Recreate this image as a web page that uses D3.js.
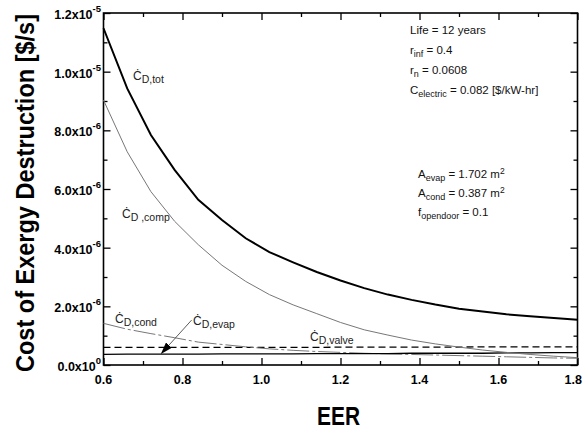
<!DOCTYPE html>
<html>
<head>
<meta charset="utf-8">
<script src="https://cdn.jsdelivr.net/npm/d3@7"></script>
<style>
  body { margin: 0; background: #fff; }
  text { font-family: "Liberation Sans", Arial, sans-serif; }
</style>
</head>
<body>
<div id="chart"></div>
<script>
// EER values (x) and cost of exergy destruction, in units of 1e-6 $/s
const eer = [0.6, 0.66, 0.72, 0.78, 0.84, 0.9, 0.96, 1.02, 1.08, 1.14, 1.2,
  1.26, 1.32, 1.38, 1.44, 1.5, 1.56, 1.62, 1.68, 1.74, 1.8]
const costTot = [11.48, 9.43, 7.84, 6.65, 5.63, 4.94, 4.32, 3.85, 3.5, 3.17, 2.88,
  2.62, 2.4, 2.22, 2.06, 1.92, 1.82, 1.73, 1.66, 1.6, 1.54]
const costComp = [9.03, 7.27, 5.91, 4.9, 4.1, 3.4, 2.85, 2.4, 2.05, 1.75, 1.45,
  1.2, 1.02, 0.85, 0.72, 0.61, 0.51, 0.43, 0.36, 0.3, 0.25]
const costCond = [1.42, 1.22, 1.07, 0.93, 0.78, 0.7, 0.62, 0.55, 0.5, 0.46, 0.43,
  0.4, 0.38, 0.36, 0.34, 0.32, 0.3, 0.28, 0.26, 0.24, 0.23]
const costValve = [0.6, 0.6, 0.6, 0.6, 0.6, 0.6, 0.6, 0.6, 0.6, 0.6, 0.61,
  0.61, 0.61, 0.61, 0.61, 0.61, 0.62, 0.62, 0.62, 0.62, 0.62]
const costEvap = [0.36, 0.37, 0.37, 0.37, 0.37, 0.38, 0.38, 0.38, 0.38, 0.39, 0.39,
  0.39, 0.39, 0.4, 0.4, 0.4, 0.4, 0.41, 0.41, 0.42, 0.42]

const xTicks = [0.6, 0.8, 1.0, 1.2, 1.4, 1.6, 1.8]
const xTickLabels = ["0.6", "0.8", "1.0", "1.2", "1.4", "1.6", "1.8"]
const yTicks = [0, 2, 4, 6, 8, 10, 12]
const yTickMant = ["0.0", "2.0", "4.0", "6.0", "8.0", "1.0", "1.2"]
const yTickExp = ["0", "-6", "-6", "-6", "-6", "-5", "-5"]

const notesTop = [
  ["Life = 12 years", "", ""],
  ["r", "inf", " = 0.4"],
  ["r", "n", " = 0.0608"],
  ["C", "electric", " = 0.082 [$/kW-hr]"]
]
const notesMid = [
  ["A", "evap", " = 1.702 m", "2"],
  ["A", "cond", " = 0.387 m", "2"],
  ["f", "opendoor", " = 0.1", ""]
]

const width = 583
const height = 432
const margin = {left: 103.5, right: 5.5, top: 13, bottom: 67}

const x = d3.scaleLinear().domain([0.6, 1.8]).range([margin.left, width - margin.right])
const y = d3.scaleLinear().domain([0, 12]).range([height - margin.bottom, margin.top])

const svg = d3.select("#chart").append("svg")
  .attr("width", width)
  .attr("height", height)

// ticks on all four sides, pointing inward
function tickAxis(axis, transform) {
  const g = svg.append("g").attr("transform", transform).call(axis)
  g.select(".domain").remove()
  g.selectAll("line").attr("stroke", "#000").attr("stroke-width", 1.3)
  g.selectAll("text").remove()
  return g
}
const xMinor = d3.range(0.7, 1.8, 0.2)
const yMinor = d3.range(1, 12, 2)
const x0 = y(0), x1 = y(12)
tickAxis(d3.axisBottom(x).tickValues(xTicks).tickSize(-7), `translate(0,${x0})`)
tickAxis(d3.axisBottom(x).tickValues(xMinor).tickSize(-4), `translate(0,${x0})`)
tickAxis(d3.axisTop(x).tickValues(xTicks).tickSize(-7), `translate(0,${x1})`)
tickAxis(d3.axisTop(x).tickValues(xMinor).tickSize(-4), `translate(0,${x1})`)
tickAxis(d3.axisLeft(y).tickValues(yTicks).tickSize(-7), `translate(${x(0.6)},0)`)
tickAxis(d3.axisLeft(y).tickValues(yMinor).tickSize(-4), `translate(${x(0.6)},0)`)
tickAxis(d3.axisRight(y).tickValues(yTicks).tickSize(-7), `translate(${x(1.8)},0)`)
tickAxis(d3.axisRight(y).tickValues(yMinor).tickSize(-4), `translate(${x(1.8)},0)`)

svg.append("rect")
  .attr("x", x(0.6)).attr("y", y(12))
  .attr("width", x(1.8) - x(0.6)).attr("height", y(0) - y(12))
  .attr("fill", "none").attr("stroke", "#000").attr("stroke-width", 1.6)

// tick labels (last one kept inside the page edge)
const last = xTicks.length - 1
svg.append("g").selectAll("text")
  .data(xTicks)
  .enter()
  .append("text")
  .attr("x", (d, i) => i == last ? width - 1 : x(d))
  .attr("y", y(0) + 19)
  .attr("text-anchor", (d, i) => i == last ? "end" : "middle")
  .attr("font-size", 12.5)
  .attr("font-weight", "bold")
  .text((d, i) => xTickLabels[i])

const yLab = svg.append("g").selectAll("text")
  .data(yTicks)
  .enter()
  .append("text")
  .attr("x", x(0.6) - 2.5)
  .attr("y", d => y(d) + 6)
  .attr("text-anchor", "end")
  .attr("font-size", 12.5)
  .attr("font-weight", "bold")
yLab.append("tspan").text((d, i) => yTickMant[i] + "x10")
yLab.append("tspan")
  .attr("dy", -7)
  .attr("font-size", 9.5)
  .text((d, i) => yTickExp[i])

// series
const line = vals => d3.line()
  .x((d, i) => x(eer[i]))
  .y(d => y(d))(vals)

const series = [
  {vals: costValve, stroke: "#000", w: 1.3, dash: "7,4"},
  {vals: costCond, stroke: "#777", w: 1, dash: "22,3,3,3"},
  {vals: costEvap, stroke: "#000", w: 1.3, dash: null},
  {vals: costComp, stroke: "#777", w: 1, dash: null},
  {vals: costTot, stroke: "#000", w: 2, dash: null}
]
svg.append("g").selectAll("path")
  .data(series)
  .enter()
  .append("path")
  .attr("d", d => line(d.vals))
  .attr("fill", "none")
  .attr("stroke", d => d.stroke)
  .attr("stroke-width", d => d.w)
  .attr("stroke-dasharray", d => d.dash)

// curve labels
const curveLabels = [
  {sub: "D,tot", px: 133, py: 80},
  {sub: "D ,comp", px: 122, py: 218},
  {sub: "D,cond", px: 115, py: 323},
  {sub: "D,evap", px: 193, py: 325},
  {sub: "D,valve", px: 310, py: 341}
]
const cl = svg.append("g").selectAll("text")
  .data(curveLabels)
  .enter()
  .append("text")
  .attr("x", d => d.px)
  .attr("y", d => d.py)
  .attr("font-size", 12)
  .attr("fill", "#222")
cl.append("tspan").text("\u010A")
cl.append("tspan").attr("dy", 3).attr("font-size", 10.5).text(d => d.sub)

// arrow to evap curve
const arrowFrom = [0.823, 1.53]
const arrowTo = [0.747, 0.4]
svg.append("defs").append("marker")
  .attr("id", "arrowHead")
  .attr("markerUnits", "userSpaceOnUse")
  .attr("markerWidth", 12).attr("markerHeight", 8)
  .attr("refX", 11).attr("refY", 4)
  .attr("orient", "auto")
  .append("path")
  .attr("d", "M 0 0 L 12 4 L 0 8 Z")
  .attr("fill", "#000")
svg.append("line")
  .attr("x1", x(arrowFrom[0])).attr("y1", y(arrowFrom[1]))
  .attr("x2", x(arrowTo[0])).attr("y2", y(arrowTo[1]))
  .attr("stroke", "#333").attr("stroke-width", 0.8)
  .attr("marker-end", "url(#arrowHead)")

// parameter notes
function notes(rows, left, top, step) {
  const t = svg.append("g").selectAll("text")
    .data(rows)
    .enter()
    .append("text")
    .attr("x", left)
    .attr("y", (d, i) => top + i * step)
    .attr("font-size", 11.5)
    .attr("fill", "#111")
  t.append("tspan").text(d => d[0])
  t.append("tspan").attr("dy", 3).attr("font-size", 9).text(d => d[1])
  t.append("tspan").attr("dy", -3).text(d => d[2])
  t.filter(d => d[3]).append("tspan").attr("dy", -4.5).attr("font-size", 8.5).text(d => d[3])
}
notes(notesTop, 410, 34, 20)
notes(notesMid, 418, 178, 19)

// axis titles
svg.append("text")
  .attr("transform", "translate(34,193) rotate(-90) scale(1,1.12)")
  .attr("text-anchor", "middle")
  .attr("font-size", 23.5)
  .attr("font-weight", "bold")
  .attr("textLength", 358)
  .attr("lengthAdjust", "spacingAndGlyphs")
  .text("Cost of Exergy Destruction [$/s]")

svg.append("text")
  .attr("x", 338.5)
  .attr("y", 425)
  .attr("text-anchor", "middle")
  .attr("font-size", 25)
  .attr("font-weight", "bold")
  .attr("textLength", 43)
  .attr("lengthAdjust", "spacingAndGlyphs")
  .text("EER")
</script>
</body>
</html>
